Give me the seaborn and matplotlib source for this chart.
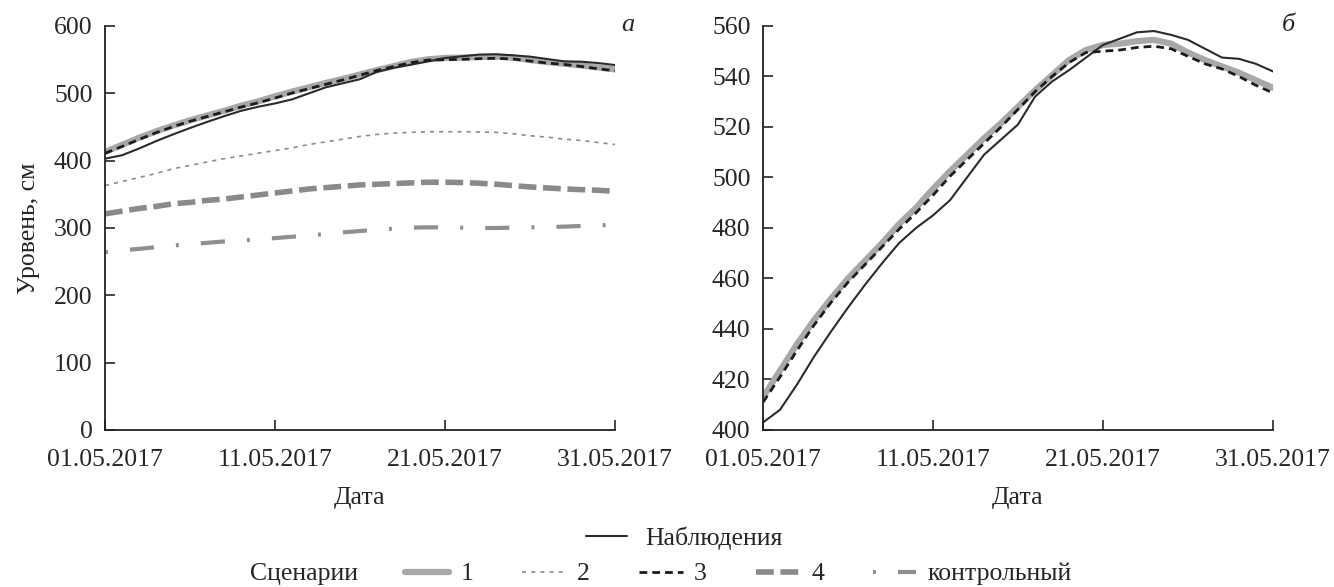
import numpy as np
import pandas as pd

import matplotlib
matplotlib.use('Agg')
import matplotlib.pyplot as plt
import matplotlib.dates as mdates
from matplotlib.lines import Line2D
import seaborn as sns


# даты (май 2017)
dates = pd.date_range('2017-05-01', '2017-05-31', freq='D')

# наблюдения
obs = [403, 408, 418, 429, 439, 448.5, 457.5, 466, 474, 480, 485, 491, 500, 509, 515,
       521, 532, 538, 542.5, 547.5, 552.5, 555, 557.5, 558, 556.5, 554.5, 551, 547.5,
       547, 545, 542]
# сценарий 1
scen1 = [413, 423.5, 434, 443.5, 452, 460, 467, 474, 481.5, 488, 495.5, 502.5, 509, 515.5,
         521.5, 528, 534.5, 540.5, 546.5, 550.5, 552.5, 553, 554, 554.5, 553, 549.5, 546.5,
         544, 541.5, 538.5, 535.5]
# сценарий 2
scen2 = [363, 369, 375, 381, 388, 393, 398, 403, 407, 411, 415, 419, 424, 428, 432, 436,
         439, 441, 442, 443, 443, 443, 442.5, 442, 440, 437, 435, 432, 430, 427, 424]
# сценарий 3
scen3 = [411, 421, 431.5, 441.5, 450.5, 458.5, 465.5, 472.5, 479.5, 486, 493, 500.5, 507,
         513.5, 520, 527, 534, 540, 545.5, 549.5, 550, 550.5, 551.5, 552, 551, 548, 545,
         543, 540, 536.5, 533.5]
# сценарий 4
scen4 = [321, 325, 329, 332, 336, 338, 341, 343, 346, 349, 352, 355, 358, 360, 362, 364,
         365, 366, 367, 368, 368, 367.5, 366.5, 365, 363, 361, 359.5, 358, 357, 356, 354.5]
# контрольный
control = [264, 267, 269, 271.5, 274, 276, 278, 280, 281.5, 283, 285, 287, 289, 291, 293.5,
           295.5, 297.5, 299, 300.5, 301, 301, 300.5, 300, 300, 300.5, 301, 301.5, 302, 303,
           304, 304.5]

tick_dates = pd.to_datetime(['2017-05-01', '2017-05-11', '2017-05-21', '2017-05-31'])

df = pd.DataFrame({'date': dates, 'obs': obs, 's1': scen1, 's2': scen2,
                   's3': scen3, 's4': scen4, 'ctrl': control})

# стили линий
styles = {
    's1': dict(color='#a8a8a8', lw=4.5, linestyle='-', solid_capstyle='round',
               solid_joinstyle='round'),
    's2': dict(color='#8c8c8c', lw=1.2, linestyle=(0, (2.5, 3))),
    's3': dict(color='#1c1c1c', lw=2, linestyle=(0, (2.8, 1.8))),
    's4': dict(color='#8a8a8a', lw=4, linestyle=(0, (3.2, 1.2))),
    'ctrl': dict(color='#909090', lw=3, linestyle=(0, (0.7, 5.3, 5.8, 5.3))),
    'obs': dict(color='#2b2b2b', lw=1.5, linestyle='-', solid_joinstyle='round'),
}

sns.set_style('ticks')
plt.rcParams['font.family'] = ['Liberation Serif', 'DejaVu Serif']
plt.rcParams['font.size'] = 18.5

fig = plt.figure(figsize=(13.34, 5.87), dpi=100)
ax_a = fig.add_axes([105 / 1334, 157 / 587, 510 / 1334, 404 / 587])
ax_b = fig.add_axes([763 / 1334, 157 / 587, 510 / 1334, 404 / 587])

# панель а: все сценарии
for key in ['ctrl', 's4', 's2', 's1', 'obs', 's3']:
    sns.lineplot(x='date', y=key, data=df, ax=ax_a, **styles[key])
# панель б: наблюдения, 1 и 3
for key in ['s1', 'obs', 's3']:
    sns.lineplot(x='date', y=key, data=df, ax=ax_b, **styles[key])

ax_a.set_ylim(0, 600)
ax_a.set_yticks(np.arange(0, 601, 100))
ax_b.set_ylim(400, 560)
ax_b.set_yticks(np.arange(400, 561, 20))

for ax in [ax_a, ax_b]:
    ax.set_xlim(dates[0], dates[-1])
    ax.set_xticks(tick_dates)
    ax.xaxis.set_major_formatter(mdates.DateFormatter('%d.%m.%Y'))
    ax.set_xlabel('Дата', fontsize=18.5, labelpad=11)
    ax.set_ylabel('')
    ax.tick_params(axis='x', direction='in', length=7, width=1.2, pad=14, labelsize=18.5)
    ax.tick_params(axis='y', direction='in', length=7, width=1.2, pad=9, labelsize=18.5)
    for s in ['left', 'bottom']:
        ax.spines[s].set_linewidth(1.3)
        ax.spines[s].set_color('#222222')
    sns.despine(ax=ax)

ax_a.set_ylabel('Уровень, см', fontsize=18.5, labelpad=10)

fig.text(628 / 1334, 1 - 25 / 587, 'а', style='italic', fontsize=19, ha='center', va='center')
fig.text(1288 / 1334, 1 - 25 / 587, 'б', style='italic', fontsize=19, ha='center', va='center')

# легенда
obs_h = Line2D([], [], **styles['obs'])
fig.legend([obs_h], ['Наблюдения'], loc='center', bbox_to_anchor=(684 / 1334, 1 - 538 / 587),
           frameon=False, handlelength=1.6, handletextpad=0.7, borderpad=0, borderaxespad=0,
           fontsize=18.5)

sc_keys = ['s1', 's2', 's3', 's4', 'ctrl']
sc_labels = ['1', '2', '3', '4', 'контрольный']
sc_h = [Line2D([], [], **styles[k]) for k in sc_keys]
fig.text(250 / 1334, 1 - 574 / 587, 'Сценарии', fontsize=18.5, ha='left', va='center')
fig.legend(sc_h, sc_labels, loc='center left', bbox_to_anchor=(405 / 1334, 1 - 574 / 587),
           ncol=5, frameon=False, handlelength=1.7, handletextpad=0.45, columnspacing=1.9,
           borderpad=0, borderaxespad=0, fontsize=18.5)

fig.savefig('out.png', dpi=100)
